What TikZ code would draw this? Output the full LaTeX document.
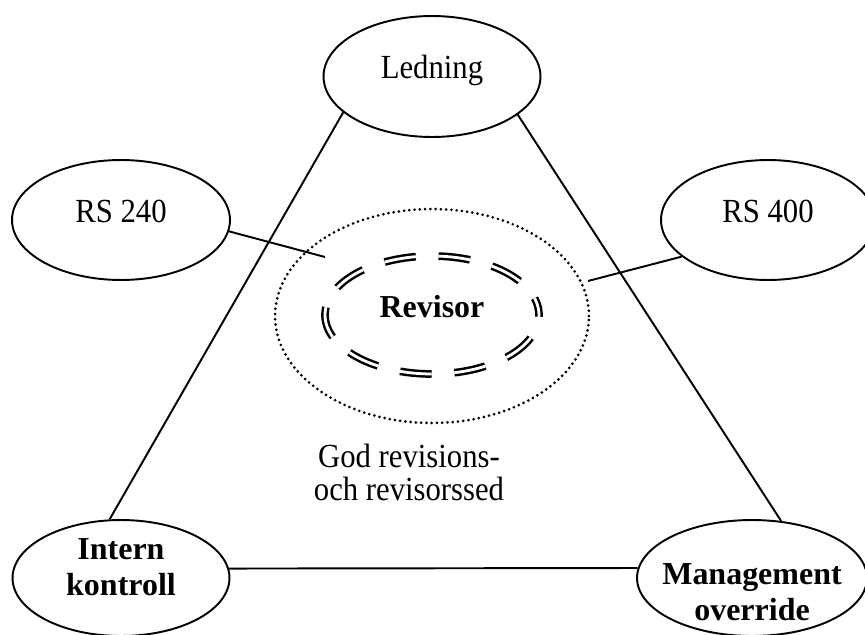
\documentclass[tikz,border=0pt]{standalone}
\usepackage{fontspec}
\setmainfont[FakeStretch=0.91]{Liberation Serif}
\newfontfamily\rubrik{Liberation Serif}
\usetikzlibrary{shapes.geometric}

\begin{document}
\begin{tikzpicture}[
      x=0.02cm, y=-0.02cm,
      font=\fontsize{19.2}{18.8}\selectfont,
      oval/.style={draw, ellipse, line width=1.1pt, inner sep=0pt,
                   minimum width=4.34cm, minimum height=2.42cm,
                   text height=0.71em, text depth=0.48em},
      fett/.style={font=\rubrik\bfseries\fontsize{18.2}{20.5}\selectfont, align=center},
      kant/.style={line width=1.1pt}
    ]
    \useasboundingbox (0,0) rectangle (865,635);

    \node[oval] (ledning) at (432,76.5) {Ledning};
    \node[oval, minimum width=4.36cm, minimum height=2.4cm] (rs240) at (121,220) {RS 240};
    \node[oval, minimum width=4.28cm, minimum height=2.4cm] (rs400) at (768,220) {RS 400};
    \node[oval, minimum height=2.32cm,
          label={[fett, yshift=6pt]center:Intern\\kontroll}] (intern) at (121,578) {};
    \node[oval, minimum width=4.6cm, minimum height=2.32cm,
          label={[fett, yshift=-7.8pt]center:Management\\override}] (mgmt) at (752,578) {};

    % revisorn i mitten
    \node[draw, ellipse, line width=1.7pt, line cap=round, dash pattern=on 0pt off 3pt,
          inner sep=0pt, minimum width=6.28cm, minimum height=4.28cm] (ram) at (432,316) {};
    \node[draw, ellipse, fett, line width=1.4pt, double, double distance=1.6pt,
          dash pattern=on 18pt off 13pt, dash phase=8pt, inner sep=0pt,
          minimum width=4.28cm, minimum height=2.36cm,
          text height=0.71em, text depth=0.48em] (revisor) at (432,315) {Revisor};
    \node[align=center] (god) at (409,472) {God revisions-\\och revisorssed};

    % triangeln
    \draw[kant] (ledning.202.7) -- (intern.101.9);
    \draw[kant] (ledning.336.7) -- (mgmt.63.8);
    \draw[kant] (intern.5) -- (mgmt.175);
    % standarderna
    \coordinate (a240) at (325,257);
    \coordinate (a400) at (588,281);
    \draw[kant] (rs240.354) -- (a240);
    \draw[kant] (rs400.203) -- (a400);
  \end{tikzpicture}
\end{document}
